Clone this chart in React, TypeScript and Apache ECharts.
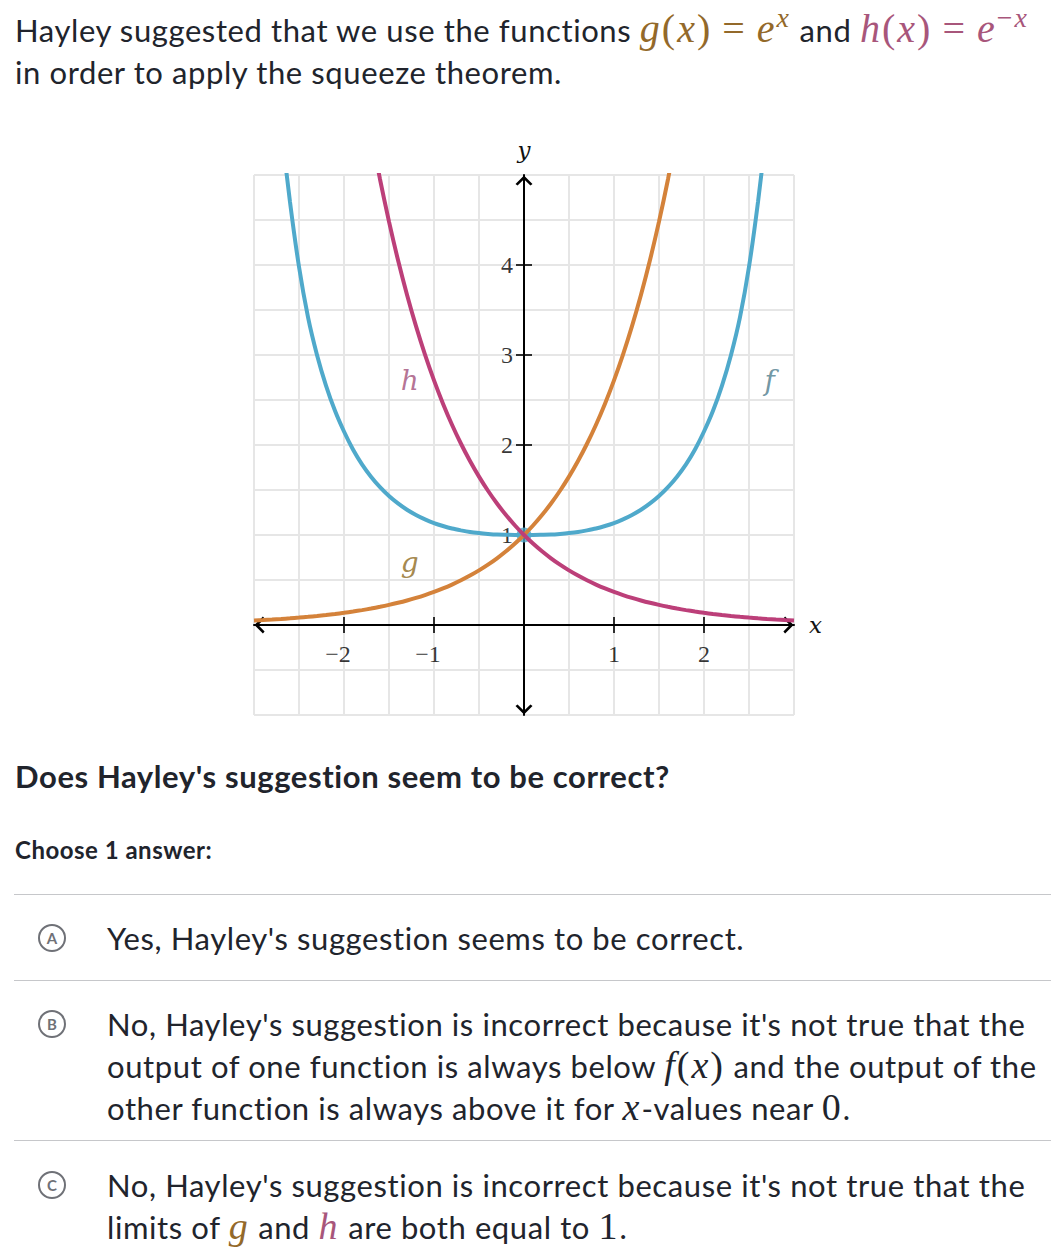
import React, { useEffect, useRef } from "react";
import * as echarts from "echarts";

// ---- data ----
const xs = [
  -3.0, -2.9, -2.8, -2.7, -2.6, -2.5, -2.4, -2.3, -2.2, -2.1, -2.0, -1.9, -1.8, -1.7, -1.6, -1.5,
  -1.4, -1.3, -1.2, -1.1, -1.0, -0.9, -0.8, -0.7, -0.6, -0.5, -0.4, -0.3, -0.2, -0.1, 0.0, 0.1,
  0.2, 0.3, 0.4, 0.5, 0.6, 0.7, 0.8, 0.9, 1.0, 1.1, 1.2, 1.3, 1.4, 1.5, 1.6, 1.7, 1.8, 1.9, 2.0,
  2.1, 2.2, 2.3, 2.4, 2.5, 2.6, 2.7, 2.8, 2.9, 3.0,
];

// g(x) = e^x (orange)
const gValues = [
  0.0498, 0.055, 0.0608, 0.0672, 0.0743, 0.0821, 0.0907, 0.1003, 0.1108, 0.1225, 0.1353, 0.1496,
  0.1653, 0.1827, 0.2019, 0.2231, 0.2466, 0.2725, 0.3012, 0.3329, 0.3679, 0.4066, 0.4493, 0.4966,
  0.5488, 0.6065, 0.6703, 0.7408, 0.8187, 0.9048, 1.0, 1.1052, 1.2214, 1.3499, 1.4918, 1.6487,
  1.8221, 2.0138, 2.2255, 2.4596, 2.7183, 3.0042, 3.3201, 3.6693, 4.0552, 4.4817, 4.953, 5.4739,
  null, null, null, null, null, null, null, null, null, null, null, null, null,
];

// h(x) = e^-x (magenta)
const hValues = [
  null, null, null, null, null, null, null, null, null, null, null, null, null,
  5.4739, 4.953, 4.4817, 4.0552, 3.6693, 3.3201, 3.0042, 2.7183, 2.4596, 2.2255, 2.0138, 1.8221,
  1.6487, 1.4918, 1.3499, 1.2214, 1.1052, 1.0, 0.9048, 0.8187, 0.7408, 0.6703, 0.6065, 0.5488,
  0.4966, 0.4493, 0.4066, 0.3679, 0.3329, 0.3012, 0.2725, 0.2466, 0.2231, 0.2019, 0.1827, 0.1653,
  0.1496, 0.1353, 0.1225, 0.1108, 0.1003, 0.0907, 0.0821, 0.0743, 0.0672, 0.0608, 0.055, 0.0498,
];

// f(x) (blue)
const fValues = [
  null, null, null,
  5.55, 4.7, 3.98, 3.42, 3.0, 2.66, 2.38, 2.15, 1.95, 1.785, 1.648, 1.532, 1.434, 1.351, 1.281,
  1.223, 1.174, 1.133, 1.1, 1.072, 1.051, 1.033, 1.021, 1.012, 1.005, 1.002, 1.0, 1.0, 1.0, 1.002,
  1.005, 1.012, 1.021, 1.033, 1.051, 1.072, 1.1, 1.133, 1.174, 1.223, 1.281, 1.351, 1.434, 1.532,
  1.648, 1.785, 1.95, 2.15, 2.38, 2.66, 3.0, 3.42, 3.98, 4.7, 5.55,
  null, null, null,
];

const xTickValues = [-2, -1, 1, 2];
const xTickLabels = ["\u22122", "\u22121", "1", "2"];
const yTickValues = [1, 2, 3, 4];
const yTickLabels = ["1", "2", "3", "4"];

const curveLabelNames = ["h", "f", "g"];
const curveLabelX = [-1.27, 2.73, -1.27];
const curveLabelY = [2.72, 2.72, 0.7];

// ---- styles ----
const BLUE = "#4fa9cb";
const ORANGE = "#d4823a";
const MAGENTA = "#bc3f79";
const LABEL_COLORS = ["#a24f79", "#4d7c8c", "#8e6a20"];
const GRID = "#e6e6e6";
const INK = "#21242c";
const MATH_FONT = '"Liberation Serif", "Times New Roman", serif';
const CHART_ITALIC = '"DejaVu Serif", serif';

const chevron = "path://M0,10 L10,0 L20,10 L17.6,12 L10,4.6 L2.4,12 Z";

function Chart() {
  const ref = useRef<HTMLDivElement>(null);
  useEffect(() => {
    if (!ref.current) return;
    const chart = echarts.init(ref.current, undefined, { renderer: "svg" });
    const pairs = (vals: (number | null)[]) => xs.map((x, i) => [x, vals[i]]);
    const axisLine = {
      show: true,
      onZero: true,
      lineStyle: { color: "#000", width: 2 },
      symbol: [chevron, chevron],
      symbolSize: [17, 11],
      symbolOffset: [5.5, -5.5],
    };
    const nameStyle = {
      fontFamily: CHART_ITALIC,
      fontStyle: "italic",
      fontSize: 23,
      color: "#111",
    };
    chart.setOption({
      animation: false,
      grid: { left: 24, top: 45, width: 540, height: 540, containLabel: false },
      xAxis: {
        type: "value",
        min: -3,
        max: 3,
        interval: 0.5,
        name: "x",
        nameLocation: "end",
        nameGap: 15,
        nameTextStyle: nameStyle,
        axisLine,
        axisTick: { show: false },
        axisLabel: { show: false },
        splitLine: { show: true, lineStyle: { color: GRID, width: 2 } },
      },
      yAxis: {
        type: "value",
        min: -1,
        max: 5,
        interval: 0.5,
        name: "y",
        nameLocation: "end",
        nameGap: 14,
        nameTextStyle: nameStyle,
        axisLine,
        axisTick: { show: false },
        axisLabel: { show: false },
        splitLine: { show: true, lineStyle: { color: GRID, width: 2 } },
      },
      series: [
        {
          type: "scatter",
          z: 1,
          silent: true,
          symbol: "rect",
          symbolSize: [2, 16],
          itemStyle: { color: "#000" },
          data: xTickValues.map((v, i) => ({
            value: [v, 0],
            label: {
              show: true,
              position: "bottom",
              distance: 9,
              formatter: xTickLabels[i],
              offset: [v < 0 ? -6 : 0, 0],
            },
          })),
          label: { fontFamily: MATH_FONT, fontSize: 24, color: "#000" },
        },
        {
          type: "scatter",
          z: 1,
          silent: true,
          symbol: "rect",
          symbolSize: [16, 2],
          itemStyle: { color: "#000" },
          data: yTickValues.map((v, i) => ({
            value: [0, v],
            label: { show: true, position: "left", distance: 3, formatter: yTickLabels[i] },
          })),
          label: { fontFamily: MATH_FONT, fontSize: 24, color: "#000" },
        },
        {
          type: "line",
          z: 3,
          data: pairs(fValues),
          smooth: 0.3,
          symbol: "none",
          lineStyle: { color: BLUE, width: 4 },
          itemStyle: { color: BLUE },
        },
        {
          type: "scatter",
          z: 3,
          silent: true,
          data: [[0, 1]],
          symbolSize: 15,
          itemStyle: { color: BLUE },
        },
        {
          type: "line",
          z: 4,
          data: pairs(gValues),
          smooth: 0.3,
          symbol: "none",
          lineStyle: { color: ORANGE, width: 4 },
          itemStyle: { color: ORANGE },
        },
        {
          type: "line",
          z: 5,
          data: pairs(hValues),
          smooth: 0.3,
          symbol: "none",
          lineStyle: { color: MAGENTA, width: 4 },
          itemStyle: { color: MAGENTA },
        },
        {
          type: "scatter",
          z: 6,
          silent: true,
          symbolSize: 0,
          data: curveLabelNames.map((n, i) => ({
            value: [curveLabelX[i], curveLabelY[i]],
            label: {
              show: true,
              position: "inside",
              formatter: n,
              color: LABEL_COLORS[i],
              fontFamily: CHART_ITALIC,
              fontStyle: "italic",
              fontSize: 28,
            },
          })),
        },
      ],
    });
    return () => chart.dispose();
  }, []);
  return (
    <div
      ref={ref}
      style={{ position: "absolute", left: 230, top: 130, width: 620, height: 600 }}
    />
  );
}

const G_COLOR = "#93692a";
const H_COLOR = "#a8567b";

const mathBase: React.CSSProperties = { fontFamily: MATH_FONT, lineHeight: 0, letterSpacing: "2px" };

function MI({ c, color, size }: { c: string; color?: string; size: number }) {
  return <span style={{ ...mathBase, fontStyle: "italic", fontSize: size, color }}>{c}</span>;
}
function MU({ c, color, size, pad }: { c: string; color?: string; size: number; pad?: number }) {
  return (
    <span style={{ ...mathBase, fontSize: size, color, margin: pad ? `0 ${pad}px` : undefined }}>
      {c}
    </span>
  );
}
function Sup({ children }: { children: React.ReactNode }) {
  return <span style={{ position: "relative", top: -15, lineHeight: 0 }}>{children}</span>;
}

function Circle({ letter, cy }: { letter: string; cy: number }) {
  return (
    <div
      style={{
        position: "absolute",
        left: 38,
        top: cy - 14,
        width: 28,
        height: 28,
        boxSizing: "border-box",
        border: "2px solid #6f7177",
        borderRadius: "50%",
        color: "#6f7177",
        fontFamily: "Lato, sans-serif",
        fontWeight: 700,
        fontSize: 15,
        lineHeight: "24px",
        textAlign: "center",
      }}
    >
      {letter}
    </div>
  );
}

function Hr({ top }: { top: number }) {
  return (
    <div
      style={{ position: "absolute", left: 14, top, width: 1037, height: 1, background: "#c6c7ca" }}
    />
  );
}

export default function App() {
  const base: React.CSSProperties = {
    position: "absolute",
    left: 15,
    whiteSpace: "nowrap",
    fontFamily: "Lato, sans-serif",
    color: INK,
    fontSize: 31,
    letterSpacing: "0.6px",
    lineHeight: "42px",
  };
  const T = 40;
  const O = 38;
  return (
    <div
      style={{
        position: "absolute",
        left: 0,
        top: 0,
        width: 1058,
        height: 1252,
        background: "#fff",
        overflow: "hidden",
      }}
    >
      <div style={{ ...base, top: 9 }}>
        Hayley suggested that we use the functions{" "}
        <MI c="g" color={G_COLOR} size={T} />
        <MU c="(" color={G_COLOR} size={T} />
        <MI c="x" color={G_COLOR} size={T} />
        <MU c=")" color={G_COLOR} size={T} />
        <MU c="=" color={G_COLOR} size={T} pad={10} />
        <MI c="e" color={G_COLOR} size={T} />
        <Sup>
          <MI c="x" color={G_COLOR} size={28} />
        </Sup>{" "}
        and <MI c="h" color={H_COLOR} size={T} />
        <MU c="(" color={H_COLOR} size={T} />
        <MI c="x" color={H_COLOR} size={T} />
        <MU c=")" color={H_COLOR} size={T} />
        <MU c="=" color={H_COLOR} size={T} pad={10} />
        <MI c="e" color={H_COLOR} size={T} />
        <Sup>
          <MU c={"\u2212"} color={H_COLOR} size={28} />
          <MI c="x" color={H_COLOR} size={28} />
        </Sup>
        <br />
        in order to apply the squeeze theorem.
      </div>

      <Chart />

      <div style={{ ...base, top: 755, fontWeight: 700 }}>
        Does Hayley's suggestion seem to be correct?
      </div>
      <div
        style={{ ...base, top: 835, fontSize: 24, letterSpacing: "0.5px", lineHeight: "30px", fontWeight: 700 }}
      >
        Choose 1 answer:
      </div>

      <Hr top={894} />
      <Circle letter="A" cy={938} />
      <div style={{ ...base, left: 107, top: 917 }}>
        Yes, Hayley's suggestion seems to be correct.
      </div>

      <Hr top={980} />
      <Circle letter="B" cy={1024} />
      <div style={{ ...base, left: 107, top: 1003 }}>
        No, Hayley's suggestion is incorrect because it's not true that the
        <br />
        output of one function is always below <MI c="f" size={O} />
        <MU c="(" size={O} />
        <MI c="x" size={O} />
        <MU c=")" size={O} /> and the output of the
        <br />
        other function is always above it for <MI c="x" size={O} />
        -values near <MU c="0" size={O} />.
      </div>

      <Hr top={1140} />
      <Circle letter="C" cy={1185} />
      <div style={{ ...base, left: 107, top: 1164 }}>
        No, Hayley's suggestion is incorrect because it's not true that the
        <br />
        limits of <MI c="g" color={G_COLOR} size={O} /> and{" "}
        <MI c="h" color={H_COLOR} size={O} /> are both equal to <MU c="1" size={O} />.
      </div>
    </div>
  );
}
